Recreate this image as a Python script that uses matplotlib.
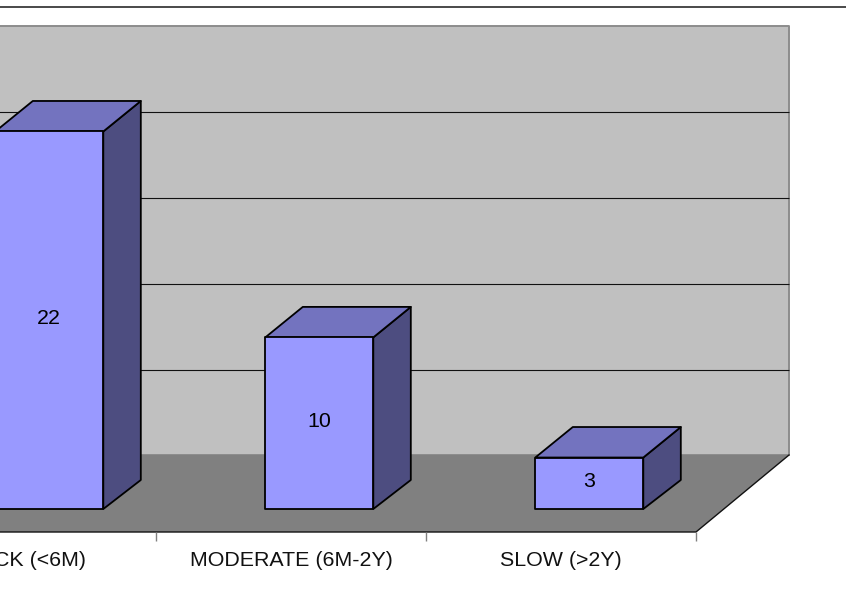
import matplotlib
matplotlib.use("Agg")
from matplotlib import pyplot as plt
from matplotlib.patches import Polygon

categories = ["QUICK (<6M)", "MODERATE (6M-2Y)", "SLOW (>2Y)"]
values = [22, 10, 3]
grid_values = [0, 5, 10, 15, 20, 25]

# size of one data unit on the canvas, in pixels
x_unit = 270.0
y_unit = 17.16
x_origin = 21.0
y_origin = 532.0
W, H = 846, 596

# 3d look: depth of the floor and share of it taken by a bar
depth_x = 93.0 / x_unit
depth_y = 77.0 / y_unit
bar_width = 0.4
bar_dx = 37.5 / x_unit
bar_dy_low = 29.0 / y_unit
bar_dy_high = 30.5 / y_unit

plt.rcParams['font.family'] = ['Liberation Sans', 'DejaVu Sans']

fig = plt.figure(figsize=(W / 100, H / 100), dpi=100)
ax = fig.add_axes([0, 0, 1, 1])
ax.set_xlim(-x_origin / x_unit, (W - x_origin) / x_unit)
ax.set_ylim((y_origin - H) / y_unit, y_origin / y_unit)
ax.axis("off")

x_left = -0.5
x_right = len(categories) - 0.5


def face(points, color, z, edge="black", lw=1.0):
    ax.add_patch(Polygon(points, closed=True, facecolor=color, edgecolor=edge,
                         linewidth=lw, joinstyle="round", zorder=z))


# back wall and floor
top = grid_values[-1]
face([(x_left + depth_x, depth_y), (x_right + depth_x, depth_y),
      (x_right + depth_x, top + depth_y), (x_left + depth_x, top + depth_y)],
     "#C0C0C0", 1, edge="#8C8C8C", lw=1.4)
face([(x_left, 0), (x_right, 0), (x_right + depth_x, depth_y), (x_left + depth_x, depth_y)],
     "#808080", 2, edge="none", lw=0)

for v in grid_values[1:-1]:
    y = v + depth_y - 0.4 / y_unit
    ax.plot([x_left + depth_x, x_right + depth_x], [y, y],
            color="#111111", lw=0.8, zorder=1.5, solid_capstyle="butt")

# floor edges and ticks between the categories
ax.plot([x_left, x_right, x_right + depth_x], [0, 0, depth_y], color="#111111", lw=1.0, zorder=3)
for i in range(len(categories) + 1):
    ax.plot([x_left + i, x_left + i], [0, -9 / y_unit], color="#808080", lw=1.0, zorder=3,
            solid_capstyle="butt")

# bars
for i, (name, v) in enumerate(zip(categories, values)):
    x_mid = i + 28.3 / x_unit
    x0 = x_mid - bar_width / 2
    x1 = x_mid + bar_width / 2
    y0 = 23.0 / y_unit
    y1 = v + y0
    xb = x1 + bar_dx
    face([(x1, y0), (xb, y0 + bar_dy_low), (xb, y1 + bar_dy_high), (x1, y1)], "#4D4D80", 4 + i, lw=1.3)
    face([(x0, y1), (x1, y1), (xb, y1 + bar_dy_high), (x0 + bar_dx, y1 + bar_dy_high)], "#7373BF", 4 + i, lw=1.3)
    face([(x0, y0), (x1, y0), (x1, y1), (x0, y1)], "#9999FF", 4 + i, lw=1.3)
    ax.text(x_mid, (y0 + y1) / 2 + 2 / y_unit, str(v), ha="center", va="center",
            fontsize=15.4, color="black", zorder=8)
    ax.annotate(name, xy=(i, 0), xytext=(0, -28 * 0.72), textcoords="offset points",
                ha="center", va="center", fontsize=15.4, color="#111111", zorder=8)

# rule across the top of the page
ax.plot([0, 1], [1 - 6.5 / H, 1 - 6.5 / H], transform=ax.transAxes, color="#3C3C3C", lw=1.3,
        zorder=9, solid_capstyle="butt")

fig.savefig("out.png", dpi=100)
